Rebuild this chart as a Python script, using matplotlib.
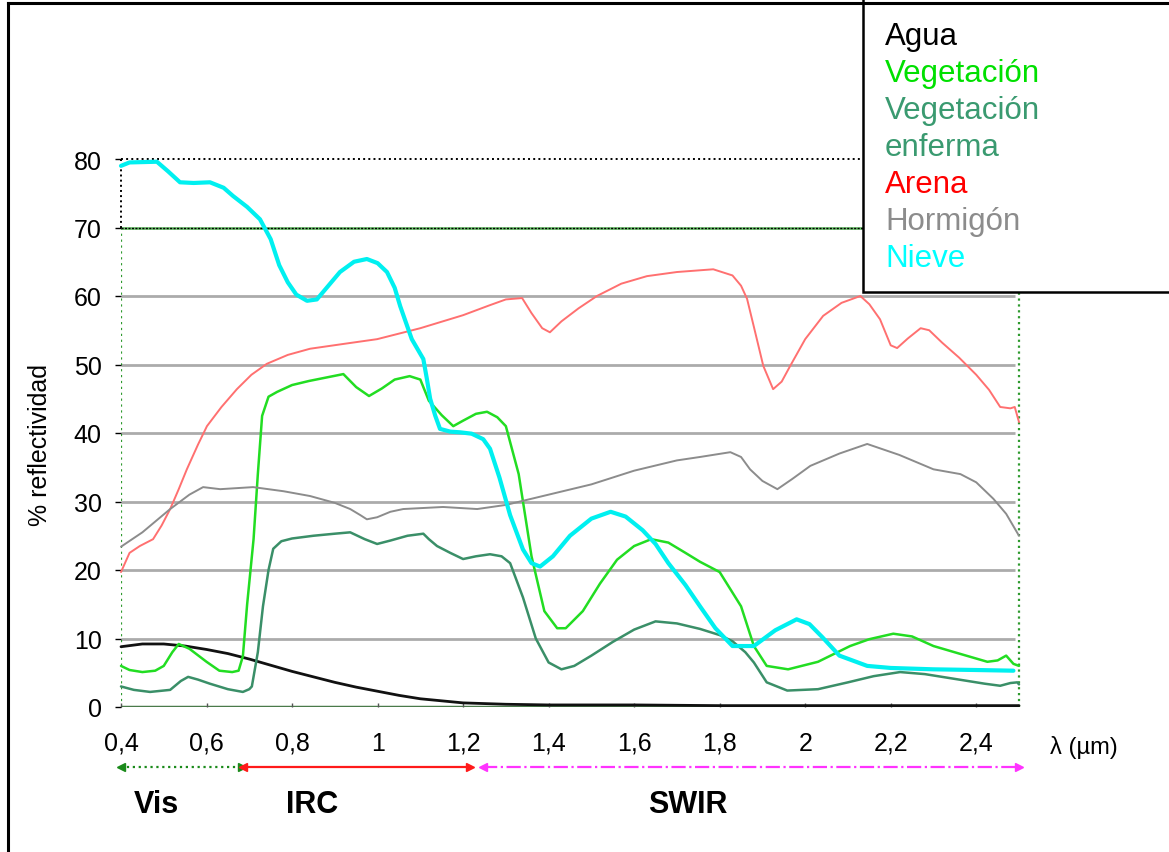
import matplotlib.pyplot as plt
from matplotlib.lines import Line2D
from matplotlib.patches import Rectangle
from matplotlib.transforms import blended_transform_factory

plt.rcParams["font.family"] = ["Liberation Sans", "DejaVu Sans"]

# Spectral reflectance curves [% vs micrometres]
agua_wl = [0.4, 0.45, 0.5, 0.55, 0.6, 0.65, 0.7, 0.75, 0.8, 0.85, 0.9, 0.95,
           1.0, 1.05, 1.1, 1.15, 1.2, 1.25, 1.3, 1.4, 1.6, 1.8, 2.0, 2.2, 2.5]
agua = [8.8, 9.2, 9.2, 8.9, 8.4, 7.8, 7.0, 6.1, 5.2, 4.4, 3.6, 2.9,
        2.3, 1.7, 1.2, 0.9, 0.6, 0.5, 0.4, 0.3, 0.3, 0.2, 0.2, 0.2, 0.2]

veg_wl = [0.4, 0.42, 0.45, 0.48, 0.5, 0.52, 0.535, 0.56, 0.6, 0.63, 0.66,
          0.675, 0.685, 0.695, 0.71, 0.72, 0.73, 0.745, 0.765, 0.8, 0.84,
          0.88, 0.92, 0.95, 0.98, 1.01, 1.04, 1.075, 1.1, 1.12, 1.15, 1.177,
          1.2, 1.23, 1.256, 1.28, 1.3, 1.33, 1.36, 1.39, 1.42, 1.44, 1.48,
          1.52, 1.56, 1.6, 1.64, 1.68, 1.72, 1.754, 1.8, 1.85, 1.88, 1.91,
          1.96, 2.03, 2.105, 2.15, 2.206, 2.25, 2.3, 2.36, 2.426, 2.45, 2.47,
          2.487, 2.5]
veg = [6.0, 5.4, 5.1, 5.3, 6.0, 8.0, 9.2, 8.5, 6.6, 5.3, 5.1,
       5.3, 7.4, 15.0, 24.5, 34.0, 42.5, 45.3, 46.0, 47.0, 47.6,
       48.1, 48.6, 46.7, 45.4, 46.5, 47.8, 48.3, 47.8, 44.7, 42.6, 41.0,
       41.8, 42.8, 43.1, 42.3, 41.0, 34.0, 22.0, 14.0, 11.5, 11.5, 14.0,
       18.0, 21.5, 23.5, 24.5, 24.0, 22.5, 21.2, 19.7, 14.7, 8.9, 6.0,
       5.5, 6.6, 8.9, 9.9, 10.7, 10.3, 8.9, 7.8, 6.6, 6.8, 7.5,
       6.3, 6.0]

enf_wl = [0.4, 0.43, 0.468, 0.515, 0.54, 0.557, 0.58, 0.608, 0.65, 0.685,
          0.7, 0.706, 0.72, 0.732, 0.745, 0.756, 0.775, 0.8, 0.85, 0.9,
          0.936, 0.97, 0.999, 1.03, 1.07, 1.107, 1.12, 1.139, 1.17, 1.2,
          1.23, 1.263, 1.29, 1.31, 1.34, 1.37, 1.4, 1.43, 1.46, 1.5, 1.55,
          1.6, 1.65, 1.7, 1.754, 1.8, 1.83, 1.86, 1.88, 1.91, 1.958, 2.03,
          2.1, 2.16, 2.222, 2.28, 2.35, 2.42, 2.456, 2.48, 2.496, 2.5]
enf = [3.0, 2.5, 2.2, 2.5, 3.8, 4.4, 4.0, 3.4, 2.6, 2.2,
       2.6, 3.0, 8.0, 14.7, 20.0, 23.1, 24.2, 24.6, 25.0, 25.3,
       25.5, 24.5, 23.8, 24.3, 25.0, 25.3, 24.5, 23.5, 22.5, 21.6,
       22.0, 22.3, 22.0, 21.0, 16.0, 10.0, 6.5, 5.5, 6.0, 7.5, 9.5,
       11.3, 12.5, 12.2, 11.4, 10.5, 9.6, 8.0, 6.5, 3.6, 2.4, 2.6,
       3.6, 4.5, 5.1, 4.8, 4.1, 3.4, 3.1, 3.5, 3.6, 3.3]

arena_wl = [0.4, 0.42, 0.444, 0.475, 0.495, 0.515, 0.535, 0.554, 0.58, 0.601,
            0.635, 0.671, 0.705, 0.741, 0.79, 0.842, 0.92, 0.999, 1.1, 1.2,
            1.26, 1.3, 1.338, 1.36, 1.385, 1.403, 1.43, 1.47, 1.513, 1.57,
            1.63, 1.7, 1.785, 1.83, 1.85, 1.864, 1.88, 1.902, 1.925, 1.945,
            1.965, 2.0, 2.042, 2.085, 2.129, 2.15, 2.175, 2.2, 2.215, 2.24,
            2.27, 2.29, 2.32, 2.36, 2.4, 2.43, 2.456, 2.48, 2.49, 2.5]
arena = [19.7, 22.5, 23.5, 24.5, 26.5, 28.9, 31.8, 34.7, 38.3, 41.0,
         43.8, 46.4, 48.5, 50.1, 51.4, 52.3, 53.0, 53.7, 55.3, 57.2,
         58.6, 59.5, 59.7, 57.5, 55.3, 54.7, 56.3, 58.2, 60.0, 61.8,
         62.9, 63.5, 63.9, 63.0, 61.5, 59.6, 55.5, 49.8, 46.4, 47.5,
         49.8, 53.7, 57.1, 59.0, 60.0, 58.8, 56.6, 52.8, 52.4, 53.8,
         55.3, 55.0, 53.2, 51.0, 48.5, 46.3, 43.8, 43.6, 43.8, 41.6]

horm_wl = [0.4, 0.45, 0.515, 0.56, 0.592, 0.632, 0.709, 0.78, 0.842, 0.9,
           0.936, 0.96, 0.975, 0.999, 1.03, 1.06, 1.153, 1.233, 1.3, 1.4,
           1.5, 1.6, 1.7, 1.754, 1.825, 1.85, 1.871, 1.9, 1.935, 1.97,
           2.012, 2.08, 2.145, 2.22, 2.3, 2.363, 2.4, 2.44, 2.47, 2.5]
horm = [23.4, 25.5, 28.9, 31.0, 32.1, 31.8, 32.1, 31.5, 30.8, 29.8,
        28.9, 28.0, 27.4, 27.7, 28.5, 28.9, 29.2, 28.9, 29.5, 31.0,
        32.5, 34.5, 36.0, 36.5, 37.2, 36.5, 34.7, 33.0, 31.8, 33.3,
        35.2, 37.0, 38.4, 36.8, 34.7, 34.0, 32.8, 30.4, 28.2, 25.0]

nieve_wl = [0.4, 0.42, 0.484, 0.51, 0.538, 0.57, 0.608, 0.64, 0.662, 0.695,
            0.725, 0.75, 0.77, 0.79, 0.81, 0.835, 0.858, 0.885, 0.912, 0.945,
            0.975, 1.0, 1.022, 1.04, 1.053, 1.08, 1.107, 1.115, 1.123, 1.135,
            1.146, 1.17, 1.193, 1.22, 1.247, 1.263, 1.285, 1.31, 1.34, 1.36,
            1.38, 1.41, 1.45, 1.5, 1.545, 1.58, 1.62, 1.65, 1.68, 1.72,
            1.754, 1.79, 1.83, 1.88, 1.93, 1.98, 2.01, 2.04, 2.08, 2.145,
            2.2, 2.3, 2.4, 2.487]
nieve = [79.0, 79.5, 79.6, 78.2, 76.6, 76.5, 76.6, 75.8, 74.6, 73.0,
         71.2, 68.3, 64.5, 62.0, 60.2, 59.3, 59.5, 61.5, 63.5, 65.0,
         65.4, 64.8, 63.5, 61.2, 58.5, 53.7, 50.8, 48.0, 45.0, 42.5,
         40.6, 40.2, 40.1, 39.9, 39.1, 37.7, 33.5, 28.0, 23.0, 21.0,
         20.5, 22.0, 25.0, 27.5, 28.5, 27.8, 25.8, 23.8, 21.0, 17.8,
         14.7, 11.5, 8.9, 8.9, 11.2, 12.8, 12.1, 10.2, 7.5, 6.0,
         5.7, 5.5, 5.4, 5.3]

names = ["Agua", "Vegetación", "Vegetación\nenferma", "Arena", "Hormigón", "Nieve"]
series = [(agua_wl, agua), (veg_wl, veg), (enf_wl, enf),
          (arena_wl, arena), (horm_wl, horm), (nieve_wl, nieve)]
line_colors = ["#111111", "#22DD22", "#3A8F68", "#FF7070", "#8C8C8C", "#00F0F0"]
text_colors = ["#000000", "#00E000", "#3A9A70", "#FF0000", "#8C8C8C", "#00FFFF"]
line_widths = [2.0, 1.8, 1.8, 1.4, 1.4, 3.0]

# Spectral regions drawn below the axis
regions = ["Vis", "IRC", "SWIR"]
region_start = [0.4, 0.685, 1.247]
region_end = [0.683, 1.216, 2.5]
region_label_x = [0.484, 0.847, 1.726]
region_colors = ["#1A8A1A", "#FF1A1A", "#FF33FF"]
region_styles = [":", "-", "-."]

xticks = [0.4, 0.6, 0.8, 1.0, 1.2, 1.4, 1.6, 1.8, 2.0, 2.2, 2.4]
xtick_labels = ["0,4", "0,6", "0,8", "1", "1,2", "1,4", "1,6", "1,8", "2", "2,2", "2,4"]
yticks = [0, 10, 20, 30, 40, 50, 60, 70, 80]
grid_levels = [10, 20, 30, 40, 50, 60]

W, H = 1169, 853
fig = plt.figure(figsize=(W / 100, H / 100), dpi=100)
ax = fig.add_axes([121 / W, 1 - 708 / H, (1019 - 121) / W, (708 - 160) / H])
ax.set_xlim(0.4, 2.5)
ax.set_ylim(0, 80)
for s in ax.spines.values():
    s.set_visible(False)

# Grid and frame
ax.hlines(grid_levels, 0.4, 2.49, color="#ABABAB", lw=2.0, zorder=1)
ax.hlines([0], 0.4, 2.5, color="#4A7A4A", lw=2.5, zorder=1)
ax.plot([0.4, 0.4], [0, 70], color="#2E9A2E", ls=":", lw=1.6, zorder=1)
ax.plot([2.5, 2.5], [0, 70], color="#2E9A2E", ls=":", lw=1.6, zorder=1, clip_on=False)
ax.plot([0.4, 2.5], [70, 70], color="#6CC06C", lw=2.0, zorder=1)
ax.plot([0.4, 2.5], [70, 70], color="k", ls=(0, (1.5, 1.0)), lw=1.0, zorder=1)
ax.plot([0.4, 2.5], [80, 80], color="k", ls=":", lw=1.4, zorder=1, clip_on=False)
ax.plot([0.4, 0.4], [70, 80], color="k", ls=":", lw=1.4, zorder=1, clip_on=False)

for (wl, val), c, lw in zip(series, line_colors, line_widths):
    ax.plot(wl, val, color=c, lw=lw, zorder=3, clip_on=False,
            solid_capstyle="round", solid_joinstyle="round")

ax.set_xticks(xticks, xtick_labels)
ax.set_yticks(yticks, [str(v) for v in yticks])
ax.tick_params(axis="y", direction="out", length=4, width=1, color="k",
               pad=10, labelsize=18)
ax.tick_params(axis="x", direction="in", length=3, width=1, color="#555555",
               pad=17, labelsize=18)

fig.text(40 / W, 1 - 445 / H, "% reflectividad", rotation=90,
         ha="center", va="center", fontsize=18)
fig.text(1050 / W, 1 - 748 / H, "λ (µm)", ha="left", va="center", fontsize=17)

# Region arrows and labels
trans = blended_transform_factory(ax.transData, fig.transFigure)
arrow_y = 1 - 768 / H
label_y = 1 - 805 / H
for name, x0, x1, xl, c, ls in zip(regions, region_start, region_end,
                                   region_label_x, region_colors, region_styles):
    ax.plot([x0, x1], [arrow_y, arrow_y], transform=trans, color=c, ls=ls,
            lw=1.6, clip_on=False)
    ax.plot([x0], [arrow_y], transform=trans, marker="<", color=c, ms=6,
            clip_on=False)
    ax.plot([x1], [arrow_y], transform=trans, marker=">", color=c, ms=6,
            clip_on=False)
    ax.text(xl, label_y, name, transform=trans, ha="center", va="center",
            fontsize=22, fontweight="bold")

# Legend box: one text per line, coloured like its series
fig.add_artist(Rectangle((863 / W, 1 - 293 / H), 0.4, 0.5, transform=fig.transFigure,
                         facecolor="white", edgecolor="k", lw=1.8, zorder=5))
baseline = 45
for name, c in zip(names, text_colors):
    for part in name.split("\n"):
        fig.text(885 / W, 1 - baseline / H, part, color=c, fontsize=22.5,
                 ha="left", va="baseline", zorder=6)
        baseline += 37

# Outer frame
fig.add_artist(Line2D([8 / W, 8 / W], [0, 1 - 4 / H], color="k", lw=2.2,
                      transform=fig.transFigure, zorder=7))
fig.add_artist(Line2D([8 / W, 1], [1 - 4 / H, 1 - 4 / H], color="k", lw=2.2,
                      transform=fig.transFigure, zorder=7))

fig.savefig("out.png", dpi=100)
